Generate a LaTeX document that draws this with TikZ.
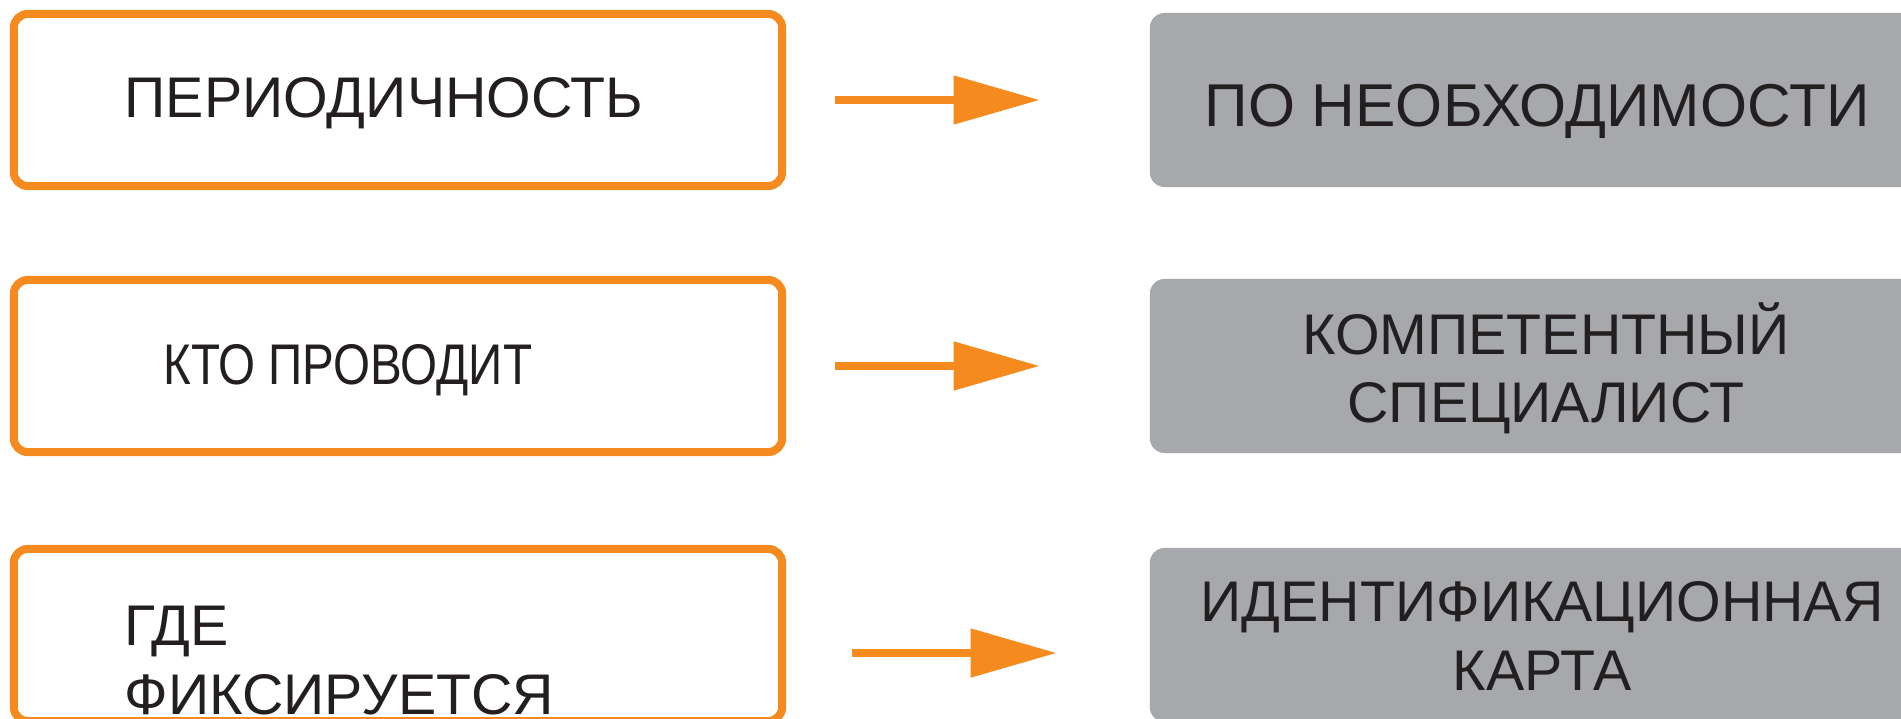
\documentclass[tikz,border=0pt]{standalone}
\usepackage{fontspec}
\setmainfont{Liberation Sans}
\usepackage{tikz}
\usetikzlibrary{arrows.meta, positioning}
\definecolor{orng}{HTML}{F58A1F}
\definecolor{gry}{HTML}{A7A8AC}
\definecolor{ink}{HTML}{231F20}

\begin{document}
\begin{tikzpicture}[x=0.01cm, y=-0.01cm,
    question/.style={draw=orng, fill=white, line width=0.08cm, rounded corners=0.14cm, minimum width=7.68cm, minimum height=1.72cm, inner sep=0pt, outer sep=0pt},
    answer/.style={fill=gry, rounded corners=0.15cm, minimum width=7.80cm, minimum height=1.74cm, inner sep=0pt, outer sep=0pt},
    txt/.style={font=\fontsize{16.3}{19.5}\selectfont, text=ink, inner sep=0pt, anchor=base},
    flow/.style={draw=orng, line width=0.08cm, -{Triangle[length=0.86cm, width=0.47cm]}}]
    \clip (0,0) rectangle (1901,719);
    % left column
    \node[question] (q1) at (398,100) {};
    \node[question] (q2) at (398,366) {};
    \node[question] (q3) at (398,635) {};
    % right column
    \node[answer] (a1) at (1540,100) {};
    \node[answer] (a2) at (1540,366) {};
    \node[answer] (a3) at (1540,635) {};
    % texts (base of multi-line nodes = last line)
    \node[txt, anchor=base west] (t1) at (124,118) {ПЕРИОДИЧНОСТЬ};
    \node[txt, anchor=base west] (t2) at (163,385) {\scalebox{0.83}[1]{КТО ПРОВОДИТ}};
    \node[txt, anchor=base west, align=left] (t3) at (124,714) {ГДЕ\\ФИКСИРУЕТСЯ};
    \node[txt, font=\fontsize{17.2}{19.5}\selectfont] (r1) at (1537,127) {ПО НЕОБХОДИМОСТИ};
    \node[txt, align=center] (r2) at (1546,423) {КОМПЕТЕНТНЫЙ\\СПЕЦИАЛИСТ};
    \node[txt, align=center] (r3) at (1542,690) {ИДЕНТИФИКАЦИОННАЯ\\КАРТА};
    % arrows
    \draw[flow, shorten <=0.53cm, shorten >=1.10cm] (q1) -- (a1);
    \draw[flow, shorten <=0.53cm, shorten >=1.10cm] (q2) -- (a2);
    \draw[flow, shorten <=0.70cm, shorten >=0.93cm] ([yshift=-0.18cm]q3.east) -- ([yshift=-0.18cm]a3.west);
\end{tikzpicture}
\end{document}
